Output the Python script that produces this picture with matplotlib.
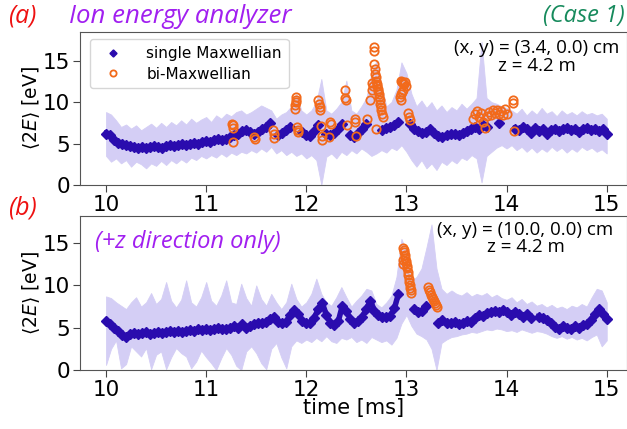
import numpy as np
import matplotlib
matplotlib.use('Agg')
import matplotlib.pyplot as plt

nan = np.nan

# time grids (ms)
t_pts = np.round(np.arange(126) * 0.04 + 10.0, 2)
t_band = np.round(np.arange(101) * 0.05 + 10.0, 2)

# (a) single Maxwellian, <2E> [eV]
a_single = [6.2, 6.0, 5.4, 5.1, 4.9, 4.8, 4.7, 4.6, 4.5, 4.6,
            4.5, 4.6, 4.7, 4.6, 4.5, 4.7, 4.8, 4.7, 4.8, 4.9,
            4.8, 5.0, 5.1, 5.0, 5.2, 5.3, 5.2, 5.4, 5.5, 5.4,
            5.6, 5.8, 6.0, 6.2, 6.5, 6.6, 6.4, 6.2, 6.4, 6.7,
            7.0, 7.5, nan, 6.0, 6.3, 6.6, 7.0, nan, nan, 6.4,
            6.0, 5.9, 6.5, 7.2, nan, 6.2, 6.0, 6.3, 6.8, 7.3,
            nan, 6.0, 5.8, 6.3, 6.8, 7.4, nan, nan, nan, 6.6,
            6.9, 7.0, 7.2, 7.6, nan, nan, 7.4, 6.8, 6.5, 6.3,
            6.4, 6.8, 6.3, 5.9, 5.8, 6.0, 6.1, 6.2, 6.0, 6.3,
            6.5, 6.8, 7.0, 6.8, 7.2, 7.0, nan, nan, 7.5, nan,
            nan, nan, 6.8, 6.6, 7.0, 6.8, 6.3, 6.9, 6.5, 6.7,
            6.2, 6.6, 6.8, 6.5, 6.7, 6.9, 6.6, 6.8, 6.4, 6.7,
            6.9, 6.6, 6.8, 6.5, 6.7, 6.2]

a_upper = [8.8, 8.5, 7.8, 7.0, 7.3, 6.8, 7.2, 6.6, 7.0, 7.4,
           6.9, 7.5, 7.0, 7.6, 7.2, 7.8, 7.3, 8.0, 7.5, 7.9,
           8.2, 7.6, 8.4, 8.0, 8.6, 8.3, 8.8, 9.0, 8.5, 8.8,
           9.2, 9.6, 9.3, 9.0, 8.0, 8.5, 8.8, 9.5, 11.0, 9.0,
           8.5, 9.0, 10.0, 12.8, 9.0, 8.6, 9.2, 10.0, 12.6, 9.0,
           8.6, 9.5, 10.5, 13.5, 15.0, 12.0, 9.5, 10.0, 11.5, 14.8,
           13.5, 11.0, 9.5, 10.2, 9.3, 10.0, 9.0, 9.6, 8.8, 9.4,
           9.0, 9.8, 9.2, 9.8, 10.5, 17.3, 10.5, 10.0, 9.8, 9.5,
           9.3, 9.0, 8.6, 9.2, 8.4, 9.0, 8.5, 9.3, 8.6, 8.9,
           8.3, 9.0, 8.5, 8.8, 8.4, 8.9, 8.5, 8.7, 8.4, 8.6,
           8.0]

a_lower = [3.5, 2.8, 3.2, 2.6, 3.0, 2.2, 2.8, 2.5, 2.0, 2.6,
           2.3, 2.9, 2.4, 3.0, 2.6, 3.1, 2.7, 3.3, 3.0, 3.5,
           3.2, 3.6, 3.3, 3.8, 3.4, 3.9, 3.6, 4.0, 3.8, 4.2,
           3.9, 4.4, 4.0, 4.6, 3.8, 4.2, 3.6, 4.0, 3.5, 3.8,
           3.2, 3.6, 3.0, 0.0, 3.4, 3.8, 3.2, 4.0, 3.6, 4.2,
           3.8, 4.4, 4.0, 3.5, 3.8, 4.2, 3.9, 4.5, 4.2, 4.8,
           4.0, 3.0, 2.2, 3.0, 2.0, 2.6, 1.8, 2.8, 2.4, 3.0,
           2.6, 3.3, 3.0, 3.6, 3.2, 0.3, 3.5, 4.0, 4.5, 4.8,
           4.4, 4.8, 4.2, 4.6, 4.0, 4.5, 3.9, 4.4, 4.0, 4.6,
           4.1, 4.5, 3.9, 4.4, 4.0, 4.6, 4.2, 4.5, 4.0, 4.3,
           3.8]

# (a) bi-Maxwellian
a_bi_t = [11.26, 11.27, 11.27, 11.27, 11.48, 11.49,
          11.67, 11.68, 11.68,
          11.90, 11.90, 11.90, 11.89, 11.89, 11.91, 11.92, 11.92,
          12.12, 12.13, 12.14, 12.14, 12.15, 12.16, 12.16,
          12.24, 12.25, 12.23,
          12.39, 12.39, 12.40, 12.41, 12.49, 12.49, 12.50, 12.61, 12.64,
          12.68, 12.68, 12.68, 12.69, 12.69, 12.70, 12.70, 12.71, 12.71,
          12.72, 12.72, 12.73, 12.73, 12.74, 12.74, 12.75, 12.75, 12.76,
          12.77, 12.70, 12.66, 12.67, 12.66,
          12.95, 12.96, 12.97, 12.98, 12.99, 12.96, 12.95, 12.97, 13.00,
          12.94, 12.95, 13.02, 13.03, 13.04,
          13.66, 13.68, 13.70, 13.72, 13.74, 13.76, 13.78, 13.80, 13.82,
          13.84, 13.86, 13.88, 13.90, 13.92, 13.94, 13.96, 13.98, 14.00,
          14.06, 14.06, 14.07]
a_bi_v = [7.4, 7.2, 6.9, 5.2, 5.8, 5.5,
          6.6, 6.2, 5.7,
          10.6, 10.3, 10.0, 9.6, 9.2, 7.0, 6.6, 6.4,
          10.2, 9.8, 9.4, 9.0, 7.1, 5.9, 5.4,
          7.6, 7.3, 5.8,
          11.5, 10.5, 10.3, 7.2, 8.0, 7.6, 5.9, 8.0, 10.3,
          16.6, 16.2, 14.6, 14.0, 13.4, 13.0, 12.5, 12.2, 11.9,
          11.6, 11.3, 11.0, 10.6, 10.2, 9.8, 9.4, 9.0, 8.6,
          8.2, 6.8, 12.3, 12.0, 11.5,
          12.6, 12.4, 12.3, 12.2, 12.4, 11.2, 11.0, 11.5, 12.0,
          10.6, 10.3, 8.7, 8.2, 7.8,
          8.0, 8.6, 8.9, 8.2, 8.7, 7.6, 6.9, 8.3, 8.8,
          8.5, 9.0, 8.7, 9.1, 8.6, 8.9, 8.4, 9.2, 8.6,
          10.3, 9.9, 6.5]

# (b) single Maxwellian
b_single = [5.8, 5.4, 5.0, 4.6, 4.1, 3.9, 4.2, 4.4, 4.3, 4.4,
            4.5, 4.3, 4.4, 4.5, 4.4, 4.5, 4.6, 4.5, 4.6, 4.5,
            4.6, 4.7, 4.6, 4.8, 4.7, 4.8, 4.7, 4.9, 5.0, 4.8,
            4.9, 5.0, 5.2, 5.0, 5.4, 5.0, 5.2, 5.4, 5.6, 5.5,
            5.7, 6.0, 6.3, 5.7, 5.5, 5.7, 6.5, 7.1, 6.6, 5.8,
            5.5, 5.6, 6.2, 7.2, 7.9, 6.5, 5.6, 5.3, 5.8, 7.6,
            7.0, 6.0, 5.5, 5.8, 6.3, 7.2, 8.2, 7.0, 6.5, 6.3,
            6.3, 6.4, 7.3, 9.0, nan, nan, nan, 7.2, 6.8, 7.0,
            7.6, nan, nan, 5.5, 5.9, 5.6, 5.5, 5.7, 5.4, 5.6,
            5.8, 5.7, 6.2, 6.5, 6.4, 6.7, 6.9, 7.0, 6.8, 7.1,
            6.8, 6.5, 6.9, 6.6, 6.3, 6.6, 6.2, nan, 6.3, 6.2,
            5.9, 5.6, 5.1, 4.9, 5.2, 5.0, 4.9, 5.2, 5.0, 5.3,
            5.4, 5.9, 6.6, 7.2, 6.6, 6.0]

b_upper = [8.7, 8.5, 8.0, 7.6, 7.2, 8.0, 8.6, 7.5, 8.0, 9.1,
           7.8, 8.4, 10.4, 8.2, 7.4, 8.3, 10.6, 8.0, 7.5, 8.6,
           10.4, 8.2, 7.6, 8.8, 10.6, 8.0, 7.8, 10.2, 8.5, 7.6,
           10.0, 8.4, 7.6, 9.0, 8.0, 7.2, 8.0, 10.2, 8.4, 7.5,
           8.0, 9.0, 10.8, 9.0, 8.0, 7.6, 8.6, 9.8, 8.6, 7.5,
           8.2, 8.8, 9.6, 9.4, 7.8, 7.4, 8.0, 8.8, 11.0, 15.5,
           14.0, 10.5, 11.0, 12.0, 14.5, 17.2, 12.0, 9.6, 9.0, 9.4,
           9.0, 8.8, 9.2, 8.7, 9.0, 8.8, 9.1, 8.6, 8.9, 8.5,
           8.3, 8.6, 8.0, 8.4, 7.8, 8.1, 7.6, 7.8, 7.4, 7.7,
           7.3, 7.5, 7.2, 7.6, 7.4, 7.8, 7.5, 8.6, 9.6, 9.4,
           8.0]

b_lower = [0.6, 2.5, 3.5, 0.2, 0.7, 2.8, 2.2, 1.6, 2.6, 0.1,
           1.8, 2.2, 0.1, 1.5, 2.6, 2.0, 1.6, 0.2, 1.0, 2.3,
           1.5, 0.8, 0.0, 1.4, 2.6, 1.8, 0.5, 0.0, 2.2, 2.8,
           2.0, 0.8, 0.1, 2.5, 3.2, 1.5, 0.2, 2.8, 3.5, 3.2,
           3.6, 3.3, 3.8, 3.4, 4.0, 3.4, 3.2, 3.8, 3.6, 3.9,
           3.3, 3.6, 3.2, 3.9, 3.6, 3.3, 3.5, 3.0, 3.8, 5.5,
           6.5, 5.2, 4.3, 4.0, 3.6, 2.5, 0.0, 3.2, 3.6, 3.9,
           4.0, 4.2, 4.3, 4.5, 4.4, 4.6, 4.8, 4.7, 4.9, 4.8,
           4.6, 4.7, 4.5, 4.8, 4.6, 4.4, 4.6, 4.5, 4.3, 4.0,
           3.8, 4.0, 3.7, 3.9, 3.6, 3.8, 3.5, 3.9, 4.2, 2.8,
           3.5]

# (b) bi-Maxwellian
b_bi_t = [12.97, 12.98, 12.98, 12.99, 12.99, 13.00, 13.00, 13.01, 13.01,
          13.02, 13.02, 13.03, 13.03, 13.04, 13.04, 13.05, 13.05, 12.97, 12.97,
          13.22, 13.23, 13.24, 13.25, 13.26, 13.27, 13.28, 13.29, 13.30, 13.31]
b_bi_v = [14.4, 14.2, 13.9, 13.6, 13.2, 12.9, 12.6, 12.3, 12.0,
          11.6, 11.2, 10.8, 10.4, 10.0, 9.7, 9.4, 9.1, 13.0, 12.5,
          9.8, 9.5, 9.2, 8.9, 8.6, 8.4, 8.1, 7.9, 7.7, 7.5]

blue = '#2a0cae'
band = '#d4cef5'
orange = '#f26a1b'

fig = plt.figure(figsize=(6.27, 4.29), dpi=100)
ax1 = fig.add_axes([0.1276, 0.569, 0.872, 0.357])
ax2 = fig.add_axes([0.1276, 0.1375, 0.872, 0.359])

panels = [(ax1, a_single, a_upper, a_lower, a_bi_t, a_bi_v, 18.5),
          (ax2, b_single, b_upper, b_lower, b_bi_t, b_bi_v, 18.2)]
for ax, single, up, lo, bt, bv, ytop in panels:
    ax.fill_between(t_band, lo, up, color=band, lw=0.6, zorder=1)
    ax.plot(t_pts, single, '-', color=blue, lw=4.0, zorder=2)
    ax.plot(t_pts, single, 'D', color=blue, ms=4.8, mec=blue, zorder=3,
            label='single Maxwellian')
    ax.plot(bt, bv, 'o', mfc='none', mec=orange, mew=1.3, ms=6, zorder=4,
            label='bi-Maxwellian')
    ax.set_xlim(9.74, 15.2)
    ax.set_ylim(0, ytop)
    ax.set_xticks([10, 11, 12, 13, 14, 15])
    ax.set_yticks([0, 5, 10, 15])
    ax.tick_params(labelsize=15.5, length=5, color='#444444', pad=2)
    ax.set_ylabel(r'$\langle 2E \rangle$ [eV]', fontsize=13.5, labelpad=1)
    for s in ax.spines.values():
        s.set_color('#555555')

ax1.legend(loc='upper left', fontsize=11, markerscale=0.75, handletextpad=1.2,
           borderpad=0.45, labelspacing=0.35, bbox_to_anchor=(0.005, 1.0))
ax2.set_xlabel('time [ms]', fontsize=15, labelpad=-1)

hf = ['Open Sans', 'DejaVu Sans']
ax1.text(0.835, 0.95, '(x, y) = (3.4, 0.0) cm\nz = 4.2 m', transform=ax1.transAxes,
         ha='center', va='top', fontsize=13.5, family=hf, linespacing=0.95)
ax2.text(0.815, 0.97, '(x, y) = (10.0, 0.0) cm\nz = 4.2 m', transform=ax2.transAxes,
         ha='center', va='top', fontsize=13.5, family=hf, linespacing=0.95)
ax2.text(0.028, 0.91, '(+z direction only)', transform=ax2.transAxes,
         ha='left', va='top', fontsize=17, style='italic', color='#a11ff0', family=hf)

fig.text(0.012, 0.962, '(a)', color='#ee1111', fontsize=18, style='italic', family=hf, va='center')
fig.text(0.110, 0.962, 'Ion energy analyzer', color='#a11ff0', fontsize=18.5, style='italic',
         family=hf, va='center')
fig.text(0.997, 0.962, '(Case 1)', color='#168a5c', fontsize=17, style='italic', family=hf,
         va='center', ha='right')
fig.text(0.012, 0.515, '(b)', color='#ee1111', fontsize=18, style='italic', family=hf, va='center')

fig.savefig('out.png', dpi=100)
